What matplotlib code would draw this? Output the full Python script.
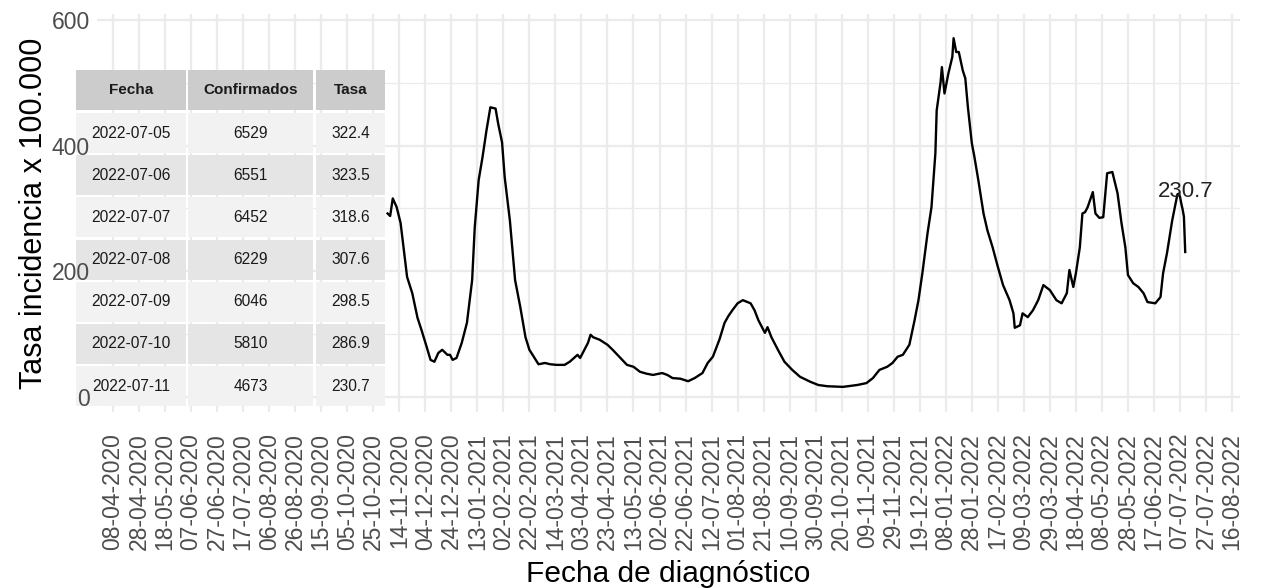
"""Tasa de incidencia x 100.000 por fecha de diagnóstico, con tabla de los últimos 7 días."""

import matplotlib
matplotlib.use("Agg")
import matplotlib.pyplot as plt
import matplotlib.dates as mdates
from matplotlib.patches import Rectangle
from matplotlib.transforms import Affine2D
import pandas as pd

plt.rcParams["font.family"] = ["Liberation Sans", "DejaVu Sans"]

# Serie (fecha de diagnóstico, tasa x 100.000)
FECHAS = [
    "2020-11-05", "2020-11-07", "2020-11-09", "2020-11-12", "2020-11-15", "2020-11-20",
    "2020-11-24", "2020-11-28", "2020-12-01", "2020-12-05", "2020-12-08", "2020-12-11",
    "2020-12-14", "2020-12-17", "2020-12-21", "2020-12-23", "2020-12-25", "2020-12-28",
    "2021-01-01", "2021-01-05", "2021-01-09", "2021-01-11", "2021-01-14", "2021-01-17",
    "2021-01-20", "2021-01-23", "2021-01-27", "2021-01-29", "2021-02-01", "2021-02-03",
    "2021-02-07", "2021-02-11", "2021-02-15", "2021-02-19", "2021-02-22", "2021-02-26",
    "2021-03-01", "2021-03-06", "2021-03-10", "2021-03-15", "2021-03-21", "2021-03-25",
    "2021-03-31", "2021-04-02", "2021-04-04", "2021-04-08", "2021-04-10", "2021-04-12",
    "2021-04-17", "2021-04-23", "2021-04-27", "2021-05-03", "2021-05-08", "2021-05-13",
    "2021-05-18", "2021-05-23", "2021-05-28", "2021-06-04", "2021-06-08", "2021-06-12",
    "2021-06-18", "2021-06-24", "2021-06-29", "2021-07-05", "2021-07-09", "2021-07-13",
    "2021-07-18", "2021-07-22", "2021-07-25", "2021-07-28", "2021-08-01", "2021-08-05",
    "2021-08-11", "2021-08-14", "2021-08-17", "2021-08-20", "2021-08-22", "2021-08-24",
    "2021-08-27", "2021-09-01", "2021-09-06", "2021-09-12", "2021-09-18", "2021-09-26",
    "2021-10-02", "2021-10-09", "2021-10-21", "2021-11-01", "2021-11-08", "2021-11-13",
    "2021-11-18", "2021-11-24", "2021-11-28", "2021-12-02", "2021-12-06", "2021-12-11",
    "2021-12-15", "2021-12-18", "2021-12-21", "2021-12-25", "2021-12-28", "2021-12-31",
    "2022-01-01", "2022-01-04", "2022-01-05", "2022-01-07", "2022-01-10", "2022-01-13",
    "2022-01-14", "2022-01-16", "2022-01-18", "2022-01-21", "2022-01-23", "2022-01-25",
    "2022-01-28", "2022-01-30", "2022-02-02", "2022-02-06", "2022-02-09", "2022-02-13",
    "2022-02-17", "2022-02-21", "2022-02-26", "2022-03-01", "2022-03-02", "2022-03-06",
    "2022-03-08", "2022-03-12", "2022-03-16", "2022-03-20", "2022-03-24", "2022-03-29",
    "2022-04-03", "2022-04-07", "2022-04-11", "2022-04-13", "2022-04-16", "2022-04-18",
    "2022-04-21", "2022-04-23", "2022-04-25", "2022-04-27", "2022-05-01", "2022-05-03",
    "2022-05-06", "2022-05-09", "2022-05-12", "2022-05-16", "2022-05-20", "2022-05-23",
    "2022-05-26", "2022-05-28", "2022-06-01", "2022-06-05", "2022-06-09", "2022-06-12",
    "2022-06-18", "2022-06-22", "2022-06-24", "2022-06-27", "2022-07-01",
]
TASA = [
    292, 288, 316, 302, 277, 191,
    165, 126, 107, 80, 59, 56,
    70, 75, 67, 67, 59, 62,
    86, 118, 186, 270, 345, 382,
    424, 461, 459, 435, 405, 350,
    281, 186, 143, 95, 75, 62,
    52, 54, 52, 51, 51, 56,
    67, 62, 70, 86, 99, 95,
    91, 83, 75, 62, 51, 48,
    40, 37, 35, 38, 35, 30,
    29, 25, 30, 38, 54, 64,
    91, 118, 129, 138, 149, 154,
    149, 138, 122, 110, 102, 111,
    95, 75, 56, 43, 32, 24,
    19, 17, 16, 19, 22, 30,
    43, 48, 54, 64, 67, 83,
    122, 154, 197, 261, 302, 388,
    456, 501, 525, 483, 515, 541,
    571, 549, 549, 520, 507, 461,
    404, 382, 345, 292, 265, 238,
    207, 178, 154, 133, 110, 114,
    133, 127, 138, 154, 178, 170,
    154, 149, 165, 202, 175, 197,
    238, 292, 294, 302, 326, 292,
    285, 286, 356, 358, 324, 277,
    238, 194, 181, 175, 165, 151,
    149, 159, 197, 229, 281,
]

# Tabla de los últimos 7 días
TABLA_FECHA = ["2022-07-05", "2022-07-06", "2022-07-07", "2022-07-08",
               "2022-07-09", "2022-07-10", "2022-07-11"]
TABLA_CONFIRMADOS = [6529, 6551, 6452, 6229, 6046, 5810, 4673]
TABLA_TASA = [322.4, 323.5, 318.6, 307.6, 298.5, 286.9, 230.7]
COLUMNAS = ["Fecha", "Confirmados", "Tasa"]

W, H = 1266, 588
fig = plt.figure(figsize=(W / 100, H / 100), dpi=100)
ax = fig.add_axes([97 / W, 176 / H, 1143 / W, 398 / H])

fechas = pd.to_datetime(FECHAS + TABLA_FECHA)
tasa = TASA + TABLA_TASA
ax.plot(fechas, tasa, color="black", linewidth=1.7, zorder=3)
ax.text(fechas[-1], max(TABLA_TASA) + 4, f"{TABLA_TASA[-1]:.1f}",
        ha="center", va="center", fontsize=16, color="#222222", zorder=4)

# Ejes al estilo theme_minimal
origen = pd.Timestamp("2020-04-08")
ticks = pd.date_range(origen, "2022-08-16", freq="20D")
ax.set_xticks(ticks)
ax.set_xticklabels([t.strftime("%d-%m-%Y") for t in ticks], rotation=90)
ax.set_xlim(mdates.date2num(origen) - 12.3, mdates.date2num(origen) + 866.1)
ax.set_yticks([0, 200, 400, 600])
ax.set_ylim(-24, 609.5)

# rejilla dibujada a mano para que la tabla la tape pero no a las etiquetas
for t in ticks:
    ax.axvline(t, color="#ebebeb", linewidth=1.6, zorder=0.2)
for v in [0, 200, 400, 600]:
    ax.axhline(v, color="#ebebeb", linewidth=1.6, zorder=0.2)
for v in [100, 300, 500]:
    ax.axhline(v, color="#ebebeb", linewidth=0.9, zorder=0.2)

for s in ax.spines.values():
    s.set_visible(False)
ax.tick_params(axis="both", length=0, labelsize=16.5, labelcolor="#4d4d4d")
ax.tick_params(axis="x", pad=15)
ax.tick_params(axis="y", pad=5)

ax.set_xlabel("Fecha de diagnóstico", fontsize=21.5, labelpad=7)
ax.set_ylabel("Tasa incidencia x 100.000", fontsize=22, labelpad=2)

# Tabla superpuesta (estilo tableGrob por defecto), en píxeles desde la esquina superior izquierda
px = Affine2D().scale(1 / W, -1 / H).translate(0, 1) + fig.transFigure
tx0, ty0 = 76, 70
col_x = [(0, 110), (112, 237), (240, 309)]
for (x0, x1), nombre in zip(col_x, COLUMNAS):
    ax.add_patch(Rectangle((tx0 + x0, ty0), x1 - x0, 40, facecolor="#cccccc",
                           edgecolor="none", transform=px, clip_on=False, zorder=1))
    ax.text(tx0 + (x0 + x1) / 2, ty0 + 20, nombre, ha="center", va="center",
            fontsize=11, fontweight="bold", color="#1a1a1a", transform=px, zorder=1.1)
for i, fila in enumerate(zip(TABLA_FECHA, TABLA_CONFIRMADOS, TABLA_TASA)):
    y0 = ty0 + 43 + i * 42.2
    fondo = "#f2f2f2" if i % 2 == 0 else "#e5e5e5"
    textos = [fila[0], f"{fila[1]}", f"{fila[2]:.1f}"]
    for (x0, x1), txt in zip(col_x, textos):
        ax.add_patch(Rectangle((tx0 + x0, y0), x1 - x0, 40, facecolor=fondo,
                               edgecolor="none", transform=px, clip_on=False, zorder=1))
        ax.text(tx0 + (x0 + x1) / 2, y0 + 20, txt, ha="center", va="center",
                fontsize=11.2, color="#1a1a1a", transform=px, zorder=1.1)

fig.savefig("out.png", dpi=100)
